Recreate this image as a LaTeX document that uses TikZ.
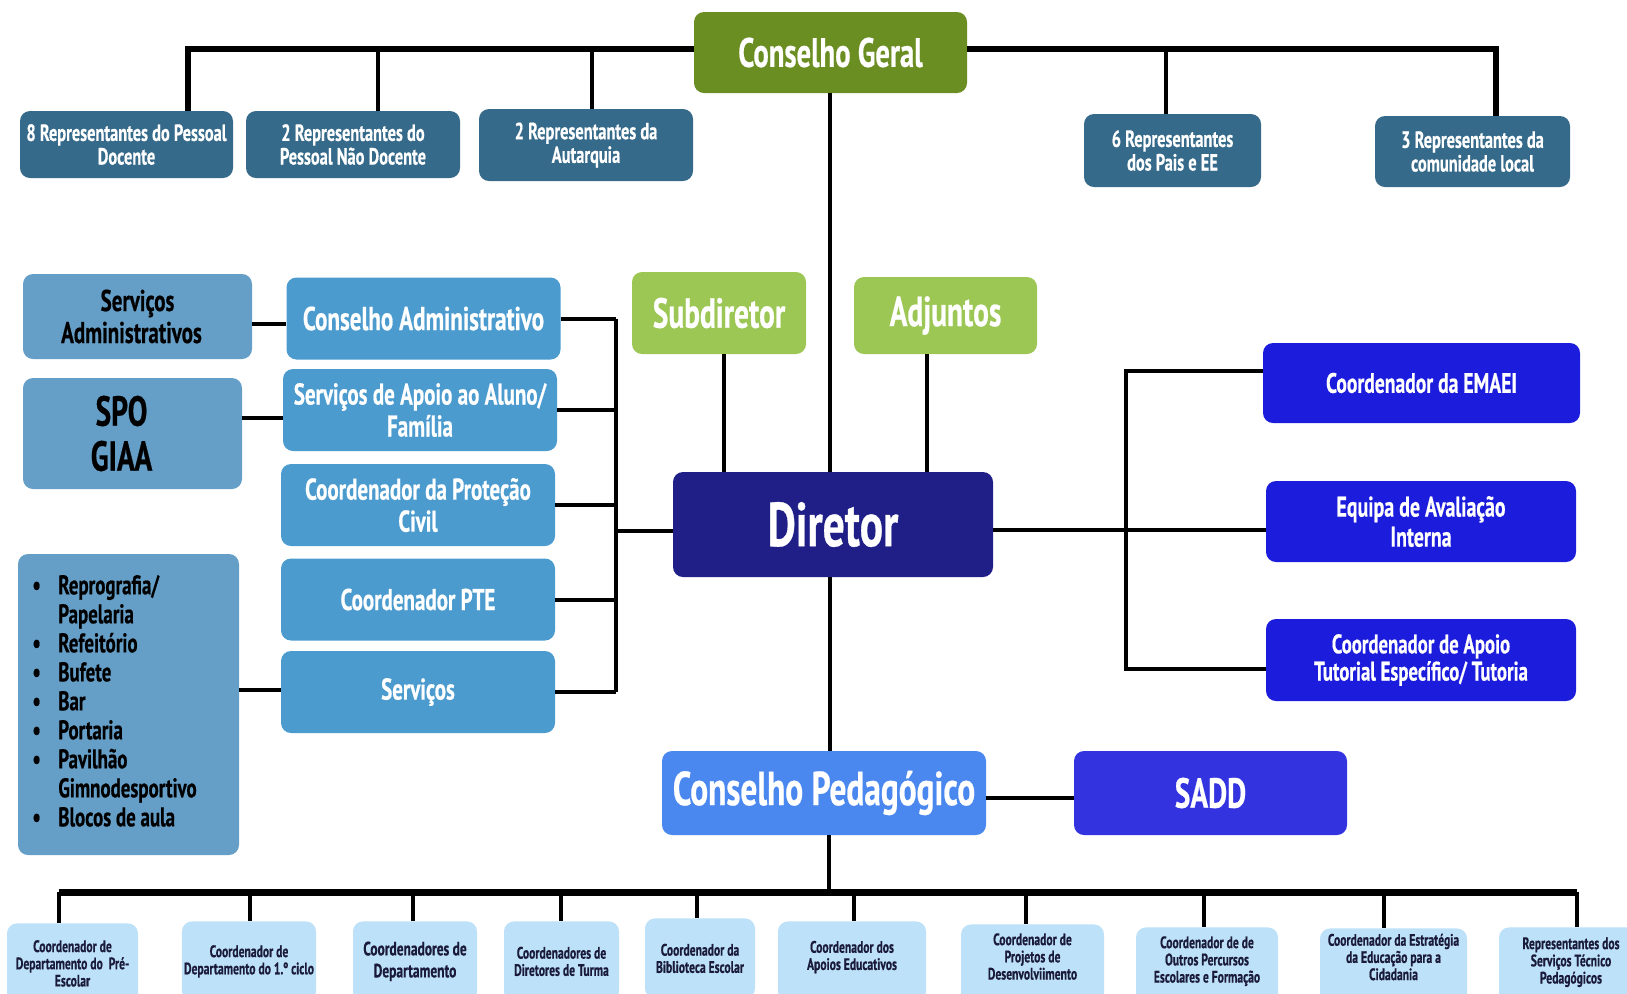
\documentclass[tikz,border=0pt]{standalone}
\usepackage{fontspec}
\setmainfont{PT Sans}[FakeStretch=0.7, BoldFeatures={FakeBold=0.5}]
\usetikzlibrary{calc}
\definecolor{cgGreen}{HTML}{6B8E23}
\definecolor{repTeal}{HTML}{356A8A}
\definecolor{subGreen}{HTML}{9DC755}
\definecolor{dirNavy}{HTML}{1F1F87}
\definecolor{midBlue}{HTML}{4B9BCF}
\definecolor{steelBlue}{HTML}{659EC7}
\definecolor{rightBlue}{HTML}{1C1CDD}
\definecolor{cpBlue}{HTML}{4A88F0}
\definecolor{saddBlue}{HTML}{3333E0}
\definecolor{lowBlue}{HTML}{BDE1F8}
\definecolor{lowText}{HTML}{1A1A3A}
\newcommand\setfs[2]{\fontsize{#1}{#2}\selectfont}
\begin{document}
\begin{tikzpicture}[x=0.5pt,y=-0.5pt,
  box/.style={rounded corners=5pt, inner sep=2pt, align=center, text=white},
  rep/.style={box, fill=repTeal, font={\bfseries\setfs{11.7}{11.8}}},
  mid/.style={box, fill=midBlue, minimum width=137pt, minimum height=41pt, font={\bfseries\setfs{15}{16}}},
  rgt/.style={box, fill=rightBlue, minimum width=155pt, minimum height=40.5pt, font={\bfseries\setfs{14.2}{15}}},
  low/.style={rounded corners=5pt, inner sep=1pt, fill=lowBlue, text=lowText, align=center, anchor=north, minimum height=40pt, font={\bfseries\setfs{8.3}{8.6}}},
  ln/.style={line width=2pt, black},
  bus/.style={line width=3pt, black}]
\useasboundingbox (0,0) rectangle (1627,993);
\clip (0,0) rectangle (1627,993);

% top
\node[box, fill=cgGreen, minimum width=136.5pt, minimum height=40.5pt, font={\bfseries\setfs{20.5}{24}}] (cg) at (830.5,52.5) {Conselho Geral};
\node[rep, minimum width=106.5pt, minimum height=33.5pt] (r1) at (126.5,144.5) {8 Representantes do Pessoal\\Docente};
\node[rep, minimum width=107pt, minimum height=33.5pt] (r2) at (353,144.5) {2 Representantes do\\Pessoal Não Docente};
\node[rep, minimum width=107pt, minimum height=36pt] (r3) at (586,145) {2 Representantes da\\Autarquia};
\node[rep, minimum width=88.5pt, minimum height=36.5pt] (r4) at (1172.5,150.5) {6 Representantes\\dos Pais e EE};
\node[rep, minimum width=97.5pt, minimum height=35.5pt] (r5) at (1472.5,151.5) {3 Representantes da\\comunidade local};

% middle
\node[box, fill=subGreen, minimum width=87pt, minimum height=41pt, font={\bfseries\setfs{21}{22}}] (sub) at (719,313) {Subdiretor};
\node[box, fill=subGreen, minimum width=91.5pt, minimum height=38.5pt, font={\bfseries\setfs{21}{22}}] (adj) at (945.5,315.5) {Adjuntos};
\node[box, fill=dirNavy, minimum width=160pt, minimum height=52.5pt, font={\bfseries\setfs{31}{34}}] (dir) at (833,524.5) {Diretor};

\node[mid, font={\bfseries\setfs{16.5}{17}}] (ca) at (423.5,318.5) {Conselho Administrativo};
\node[mid] (saa) at (420,410) {Serviços de Apoio ao Aluno/\\Família};
\node[mid] (cpc) at (418,505) {Coordenador da Proteção\\Civil};
\node[mid] (pte) at (418,599.5) {Coordenador PTE};
\node[mid] (serv) at (418,692) {Serviços};

\node[box, fill=steelBlue, text=black, minimum width=114.5pt, minimum height=42.5pt, font={\bfseries\setfs{15}{16}}] (sa) at (137.5,316.5) {Serviços\\Administrativos\hspace*{6pt}};
\node[box, fill=steelBlue, text=black, minimum width=109.5pt, minimum height=55.5pt, font={\bfseries\setfs{21}{22.5}}] (spo) at (132.5,433.5) {SPO\hspace*{11pt}\\GIAA\hspace*{11pt}};
\node[box, fill=steelBlue, text=black, minimum width=110.5pt, minimum height=150.5pt, font={\bfseries\setfs{13.5}{14.5}}] (lst) at (128.5,704.5) {%
\begin{tabular}{@{}p{13pt}@{}l@{}}
\textbullet & Reprografia/\\
 & Papelaria\\
\textbullet & Refeitório\\
\textbullet & Bufete\\
\textbullet & Bar\\
\textbullet & Portaria\\
\textbullet & Pavilhão\\
 & Gimnodesportivo\\
\textbullet & Blocos de aula
\end{tabular}\hspace*{14pt}};

\node[rgt, minimum width=158.5pt, minimum height=40pt, font={\bfseries\setfs{14}{15}}] (emaei) at (1421.5,383) {Coordenador da EMAEI};
\node[rgt] (eai) at (1421,521.5) {Equipa de Avaliação\\Interna};
\node[rgt, minimum height=41pt, font={\bfseries\setfs{13.4}{13.6}}] (cat) at (1421,660) {Coordenador de Apoio\\Tutorial Específico/ Tutoria};

\node[box, fill=cpBlue, minimum width=162pt, minimum height=42pt, font={\bfseries\setfs{23.8}{25}}] (cp) at (824,793) {Conselho Pedagógico};
\node[box, fill=saddBlue, minimum width=136.5pt, minimum height=42pt, font={\bfseries\setfs{21}{24}}] (sadd) at (1210.5,793) {SADD};

% bottom
\node[low, minimum width=65.5pt] (b1) at (72.5,923) {Coordenador de\\Departamento do~ Pré-\\Escolar};
\node[low, minimum width=67pt] (b2) at (249,921) {Coordenador de\\Departamento do 1.º ciclo};
\node[low, minimum width=62pt, font={\bfseries\setfs{9.6}{11}}] (b3) at (415,921) {Coordenadores de\\Departamento};
\node[low, minimum width=57.5pt] (b4) at (561.5,921) {Coordenadores de\\Diretores de Turma};
\node[low, minimum width=55pt] (b5) at (700,918) {Coordenador da\\Biblioteca Escolar};
\node[low, minimum width=74pt, text depth=6pt] (b6) at (852,921) {Coordenador dos\\Apoios Educativos};
\node[low, minimum width=71.5pt, text depth=8pt] (b7) at (1032.5,924) {Coordenador de\\Projetos de\\Desenvolviimento};
\node[low, minimum width=71pt, text depth=8pt] (b8) at (1207,927) {Coordenador de de\\Outros Percursos\\Escolares e Formação};
\node[low, minimum width=73.5pt, text depth=11.5pt] (b9) at (1393.5,928) {Coordenador da Estratégia\\da Educação para a\\Cidadania};
\node[low, minimum width=72pt, text depth=7pt] (b10) at (1571,927) {Representantes dos\\Serviços Técnico\\Pedagógicos};

% connectors: top
\coordinate (tl) at (188,49);
\coordinate (tr) at (1496,49);
\coordinate (t2) at (378,49);
\coordinate (t3) at (592,49);
\coordinate (t4) at (1166,49);
\draw[bus] (r1.north -| tl) -- (tl) -- (cg.west |- tl);
\draw[bus] (cg.east |- tr) -- (tr) -- (r5.north -| tr);
\draw[ln] (t2) -- (t2 |- r2.north);
\draw[ln] (t3) -- (t3 |- r3.north);
\draw[ln] (t4) -- (t4 |- r4.north);

\coordinate (cx) at (830,0);
\draw[ln] (cg.south -| cx) -- (dir.north -| cx);
\coordinate (sx) at (724,0);
\coordinate (ax) at (927,0);
\draw[ln] (sub.south -| sx) -- (dir.north -| sx);
\draw[ln] (adj.south -| ax) -- (dir.north -| ax);

% left bus
\coordinate (lx) at (616,0);
\draw[ln] (ca.east -| lx) -- (serv.east -| lx);
\draw[ln] (ca.east) -- (ca.east -| lx);
\draw[ln] (saa.east) -- (saa.east -| lx);
\draw[ln] (cpc.east) -- (cpc.east -| lx);
\draw[ln] (pte.east) -- (pte.east -| lx);
\draw[ln] (serv.east) -- (serv.east -| lx);
\coordinate (ld) at (616,531);
\draw[ln] (ld) -- (ld -| dir.west);

\coordinate (c1) at (0,324);
\coordinate (c2) at (0,418);
\coordinate (c3) at (0,690);
\draw[ln] (sa.east |- c1) -- (ca.west |- c1);
\draw[ln] (spo.east |- c2) -- (saa.west |- c2);
\draw[ln] (lst.east |- c3) -- (serv.west |- c3);

% right bus
\coordinate (e1) at (1126,371);
\coordinate (e2) at (1126,530);
\coordinate (e3) at (1126,669);
\draw[ln] (emaei.west |- e1) -- (e1) -- (e3) -- (cat.west |- e3);
\draw[ln] (dir.east |- e2) -- (eai.west |- e2);

% pedagogico
\draw[ln] (dir.south -| cx) -- (cp.north -| cx);
\coordinate (cs) at (0,798);
\draw[ln] (cp.east |- cs) -- (sadd.west |- cs);
\coordinate (bb) at (829,892);
\draw[ln] (cp.south -| bb) -- (bb);
\coordinate (bl) at (59,892);
\coordinate (br) at (1577,892);
\draw[line width=3.5pt] (bl) -- (br);
\coordinate (d1) at (59,892);
\coordinate (d2) at (250,892);
\coordinate (d3) at (413,892);
\coordinate (d4) at (561,892);
\coordinate (d5) at (697,892);
\coordinate (d6) at (854,892);
\coordinate (d7) at (1026,892);
\coordinate (d8) at (1204,892);
\coordinate (d9) at (1384,892);
\coordinate (d10) at (1577,892);
\foreach \i in {1,...,10} {\draw[ln] (d\i) -- (d\i |- b\i.north);}
\end{tikzpicture}
\end{document}
